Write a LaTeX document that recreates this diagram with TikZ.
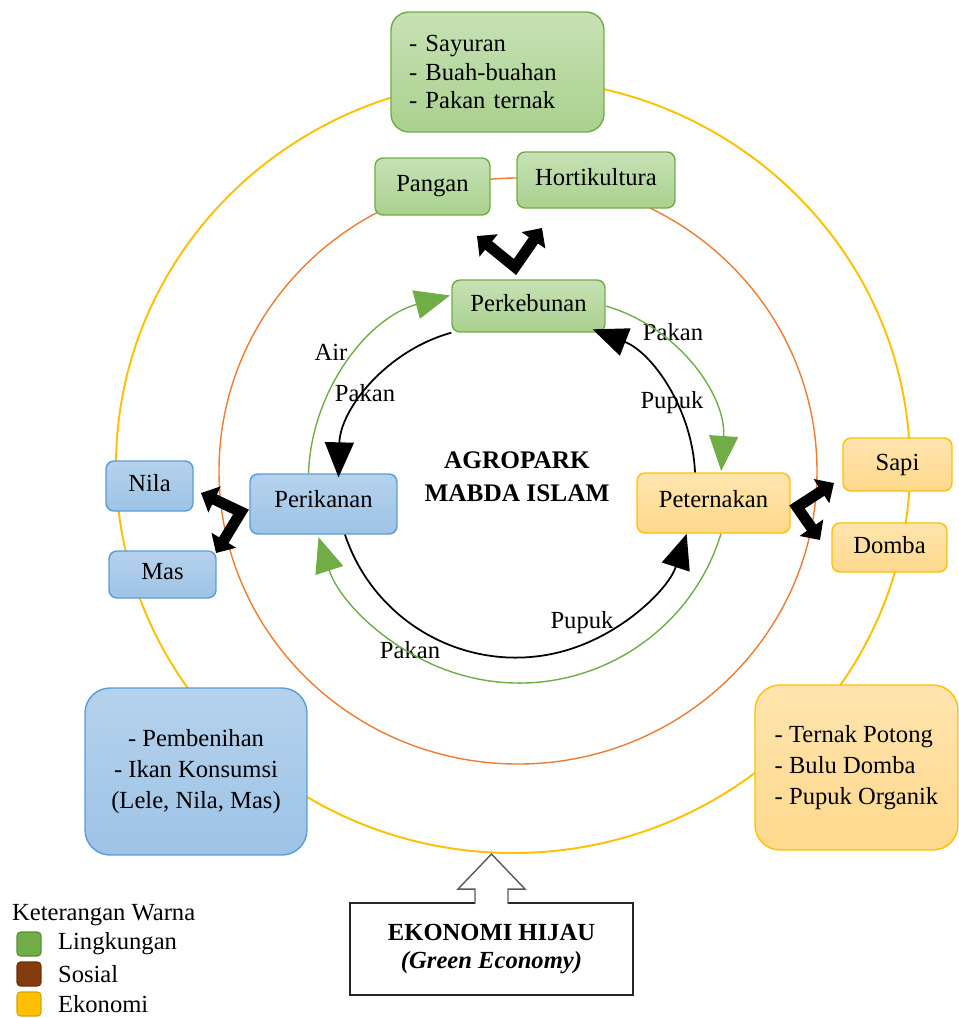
\documentclass[tikz,border=0pt]{standalone}
\usepackage{fontspec}
\setmainfont{Liberation Serif}
\usetikzlibrary{shapes.geometric, arrows.meta, positioning}

\definecolor{leafline}{HTML}{70AD47}
\definecolor{leaffill}{HTML}{A9D18E}
\definecolor{waterline}{HTML}{5B9BD5}
\definecolor{waterfill}{HTML}{9DC3E6}
\definecolor{goldline}{HTML}{FFC000}
\definecolor{goldfill}{HTML}{FFD98C}
\definecolor{socialline}{HTML}{ED7D31}
\definecolor{socialbrown}{HTML}{843C0C}

\newcommand{\diagfont}{\fontsize{14}{17}\selectfont}

\tikzstyle{leafbox} = [
  rectangle,
  rounded corners=0.16cm,
  draw=leafline,
  line width=0.8pt,
  top color=leaffill!65!white,
  bottom color=leaffill,
  inner sep=2pt,
  text depth=0.3em,
  font=\diagfont
]
\tikzstyle{waterbox} = [
  rectangle,
  rounded corners=0.16cm,
  draw=waterline,
  line width=0.8pt,
  top color=waterfill!75!white,
  bottom color=waterfill,
  inner sep=2pt,
  text depth=0.3em,
  font=\diagfont
]
\tikzstyle{goldbox} = [
  rectangle,
  rounded corners=0.16cm,
  draw=goldline,
  line width=0.8pt,
  top color=goldfill!70!white,
  bottom color=goldfill,
  inner sep=2pt,
  text depth=0.3em,
  font=\diagfont
]
\tikzstyle{legendbox} = [
  rectangle,
  rounded corners=2pt,
  minimum size=0.48cm,
  line width=0.6pt
]
\tikzstyle{legendtext} = [font=\diagfont, inner xsep=1pt]
\tikzstyle{flowgreen} = [draw=leafline, line width=0.8pt, -{Triangle[length=0.7cm, width=0.58cm]}]
\tikzstyle{flowblack} = [draw=black, line width=1pt, -{Triangle[length=0.7cm, width=0.58cm]}]
\tikzstyle{fork} = [line width=0.22cm, line join=miter, {Triangle[length=0.3cm, width=0.56cm]}-{Triangle[length=0.3cm, width=0.56cm]}]
\tikzstyle{hollowarrow} = [draw=black!65, fill=white, line width=0.8pt, line join=miter]
\tikzstyle{flowlabel} = [font=\diagfont, inner sep=1pt]

\begin{document}
\begin{tikzpicture}[x=0.02cm, y=-0.02cm, node distance=0.6cm]
    \useasboundingbox (0,0) rectangle (958,1018);

    % rings
    \draw [goldline, line width=1.1pt] (513,466) ellipse [x radius=397, y radius=387];
    \draw [socialline, line width=0.8pt] (518,471) ellipse [x radius=299, y radius=293];

    \node (sayur) [leafbox, rounded corners=0.36cm, minimum width=4.26cm, minimum height=2.4cm, text width=3.54cm, inner xsep=0.36cm, text depth=, align=left, font=\fontsize{14}{16.2}\selectfont] at (497.5,72) {- Sayuran\\- Buah-buahan\\- Pakan ternak};
    \node (pangan) [leafbox, minimum width=2.3cm, minimum height=1.14cm] at (432.5,186.5) {Pangan};
    \node (horti) [leafbox, minimum width=3.16cm, minimum height=1.12cm] at (596,180) {Hortikultura};
    \node (kebun) [leafbox, minimum width=3.06cm, minimum height=1.04cm] at (528.5,306) {Perkebunan};
    \node (ikan) [waterbox, minimum width=2.94cm, minimum height=1.2cm, text depth=0.6em] at (323.5,504) {Perikanan};
    \node (ternak) [goldbox, minimum width=3.06cm, minimum height=1.2cm, text depth=0.5em] at (713.5,503) {Peternakan};
    \node (nila) [waterbox, minimum width=1.74cm, minimum height=1cm] at (149.5,486) {Nila};
    \node (mas) [waterbox, minimum width=2.14cm, minimum height=0.94cm] at (162.5,574.5) {Mas};
    \node (sapi) [goldbox, minimum width=2.18cm, minimum height=1.06cm] at (897.5,464.5) {Sapi};
    \node (domba) [goldbox, minimum width=2.3cm, minimum height=0.98cm] at (889.5,547.5) {Domba};
    \node (benih) [waterbox, rounded corners=0.5cm, minimum width=4.44cm, minimum height=3.34cm, text depth=, align=center, font=\fontsize{14}{17.6}\selectfont] at (196,771.5) {- Pembenihan\\- Ikan Konsumsi\\(Lele, Nila, Mas)};
    \node (potong) [goldbox, rounded corners=0.5cm, minimum width=4.06cm, minimum height=3.3cm, text depth=, align=left, font=\fontsize{14}{17.6}\selectfont] at (856.5,767.5) {- Ternak Potong\\- Bulu Domba\\- Pupuk Organik};
    \node (eko) [draw=black!85, line width=1.1pt, fill=white, minimum width=5.66cm, minimum height=1.84cm, align=center, font=\fontsize{14}{15.9}\selectfont] at (491.5,949) {\textbf{EKONOMI HIJAU}\\\textbf{\textit{(Green Economy)}}};
    \node (judul) [align=center, font=\fontsize{14.4}{18.7}\selectfont\bfseries] at (517,477) {AGROPARK\\MABDA ISLAM};

    % flow labels
    \node (lbl-air) [flowlabel] at (331,352) {Air};
    \node (lbl-pakan-kiri) [flowlabel] at (365,393) {Pakan};
    \node (lbl-pakan-kanan) [flowlabel] at (673,332) {Pakan};
    \node (lbl-pupuk-kanan) [flowlabel] at (672,403) {Pupuk};
    \node (lbl-pupuk-bawah) [flowlabel] at (582,623) {Pupuk};
    \node (lbl-pakan-bawah) [flowlabel] at (410,650) {Pakan};

    % cycle arcs
    \draw [flowgreen] ([xshift=-0.3cm]ikan.north) arc [start angle=182, end angle=255, radius=191];
    \draw [flowgreen] (kebun.east) arc [start angle=286, end angle=364, radius=160];
    \draw [flowgreen] ([xshift=0.15cm]ternak.south) arc [start angle=17, end angle=162, radius=211];
    \draw [flowblack] (kebun.south west) arc [start angle=254.5, end angle=181.4, radius=154];
    \draw [flowblack] ([xshift=-0.37cm]ternak.north) arc [start angle=357.5, end angle=291.3, radius=161];
    \draw [flowblack] ([xshift=0.43cm]ikan.south) arc [start angle=161.5, end angle=18.2, radius=180];

    % forks
    \coordinate (kebun-fork) at (515,267);
    \coordinate (pangan-tip) at (477,236);
    \coordinate (horti-tip) at (542,228);
    \coordinate (ikan-fork) at (241,512);
    \coordinate (nila-tip) at (201,493);
    \coordinate (mas-tip) at (216,553);
    \coordinate (ternak-fork) at (797,507);
    \coordinate (sapi-tip) at (834,483);
    \coordinate (domba-tip) at (820,540);
    \draw [fork] (pangan-tip) -- (kebun-fork) -- (horti-tip);
    \draw [fork] (nila-tip) -- (ikan-fork) -- (mas-tip);
    \draw [fork] (sapi-tip) -- (ternak-fork) -- (domba-tip);

    \draw [hollowarrow] ([xshift=-0.33cm, yshift=-0.04cm]eko.north) -- ++(0,-15) -- ++(-17,0) -- ++(33.5,-35) -- ++(33.5,35) -- ++(-17,0) -- ++(0,15);

    % legend
    \node (legend-title) [legendtext, anchor=west] at (10,915) {Keterangan Warna};
    \node (leg-leaf) [legendbox, fill=leafline, draw=leafline!80!black] at (29,944) {};
    \node (leg-social) [legendbox, fill=socialbrown, draw=socialbrown!80!black, below of=leg-leaf] {};
    \node (leg-gold) [legendbox, fill=goldline, draw=goldline!85!black, below of=leg-social] {};
    \node (txt-leaf) [legendtext, right of=leg-leaf, anchor=west, xshift=-0.06cm] {Lingkungan};
    \node (txt-social) [legendtext, right of=leg-social, anchor=west, xshift=-0.06cm] {Sosial};
    \node (txt-gold) [legendtext, right of=leg-gold, anchor=west, xshift=-0.06cm] {Ekonomi};
\end{tikzpicture}
\end{document}
